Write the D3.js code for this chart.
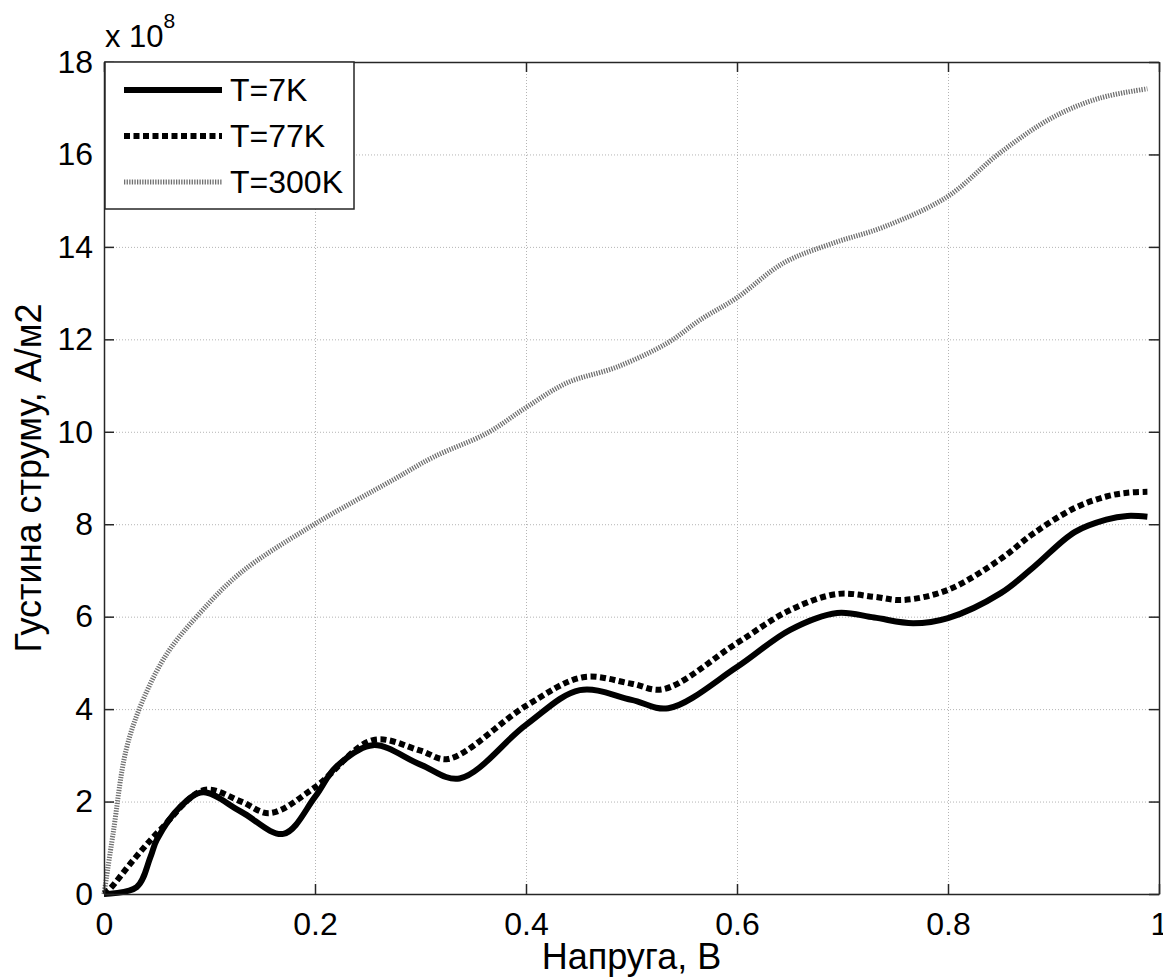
<!DOCTYPE html>
<html>
<head>
<meta charset="utf-8">
<script src="https://cdn.jsdelivr.net/npm/d3@7"></script>
<style>
  body { margin: 0; background: #fff; }
  text { font-family: "Liberation Sans", Arial, sans-serif; fill: #000; }
</style>
</head>
<body>
<div id="graph"></div>
<script>
// voltage (V) and current density (x 1e8 A/m2)
const xT7 = [0, 0.031, 0.044, 0.05, 0.072, 0.094, 0.13, 0.17, 0.2, 0.22, 0.255, 0.3, 0.337, 0.4, 0.451, 0.5, 0.535, 0.6, 0.65, 0.695, 0.73, 0.767, 0.8, 0.85, 0.881, 0.92, 0.95, 0.97, 0.989];
const yT7 = [0, 0.15, 0.8, 1.17, 1.88, 2.2, 1.78, 1.3, 2.1, 2.75, 3.22, 2.8, 2.5, 3.66, 4.41, 4.2, 4.02, 4.91, 5.71, 6.08, 5.98, 5.86, 5.97, 6.51, 7.07, 7.83, 8.1, 8.18, 8.16];

const xT77 = [0, 0.006, 0.028, 0.053, 0.095, 0.13, 0.157, 0.2, 0.255, 0.3, 0.326, 0.4, 0.454, 0.5, 0.53, 0.6, 0.65, 0.695, 0.73, 0.757, 0.8, 0.85, 0.881, 0.92, 0.95, 0.97, 0.989];
const yT77 = [0, 0.12, 0.74, 1.38, 2.25, 2.0, 1.75, 2.31, 3.33, 3.1, 2.92, 4.07, 4.69, 4.55, 4.43, 5.43, 6.14, 6.49, 6.43, 6.36, 6.58, 7.25, 7.8, 8.35, 8.6, 8.68, 8.7];

const xT300 = [0, 0.0087, 0.021, 0.037, 0.06, 0.091, 0.129, 0.198, 0.274, 0.312, 0.363, 0.401, 0.439, 0.486, 0.534, 0.565, 0.6, 0.644, 0.691, 0.739, 0.799, 0.849, 0.9, 0.944, 0.989];
const yT300 = [0, 1.32, 3.12, 4.2, 5.21, 6.08, 6.94, 7.98, 8.96, 9.45, 9.97, 10.54, 11.06, 11.4, 11.92, 12.42, 12.9, 13.65, 14.08, 14.43, 15.08, 16.03, 16.81, 17.22, 17.42];

const xTicks = [0, 0.2, 0.4, 0.6, 0.8, 1];
const yTicks = [0, 2, 4, 6, 8, 10, 12, 14, 16, 18];
const legendLabels = ["T=7K", "T=77K", "T=300K"];

const W = 1163, H = 980;
const mLeft = 104, mRight = 1159, mTop = 62, mBottom = 894;

const svg = d3.select("#graph").append("svg")
  .attr("width", W)
  .attr("height", H);

const x = d3.scaleLinear().domain([0, 1]).range([mLeft, mRight]);
const y = d3.scaleLinear().domain([0, 18]).range([mBottom, mTop]);

// grid
svg.append("g")
  .attr("transform", "translate(0," + mBottom + ")")
  .call(d3.axisBottom(x).tickValues(xTicks).tickSize(-(mBottom - mTop)).tickFormat(""))
  .call(g => g.select(".domain").remove())
  .selectAll("line")
  .attr("stroke", "#b4b4b4")
  .attr("stroke-dasharray", "1,2");

svg.append("g")
  .attr("transform", "translate(" + mLeft + ",0)")
  .call(d3.axisLeft(y).tickValues(yTicks).tickSize(-(mRight - mLeft)).tickFormat(""))
  .call(g => g.select(".domain").remove())
  .selectAll("line")
  .attr("stroke", "#b4b4b4")
  .attr("stroke-dasharray", "1,2");

// curves
const series = [
  { xs: xT7, ys: yT7, stroke: "#000", width: 6, dash: null },
  { xs: xT77, ys: yT77, stroke: "#000", width: 6, dash: "6,3.5" },
  { xs: xT300, ys: yT300, stroke: "#707070", width: 5, dash: "1.3,1.3" }
];

const line = d3.line()
  .x(d => x(d[0]))
  .y(d => y(d[1]))
  .curve(d3.curveCatmullRom.alpha(0.5));

series.slice().reverse().forEach(s => {
  svg.append("path")
    .datum(d3.zip(s.xs, s.ys))
    .attr("d", line)
    .attr("fill", "none")
    .attr("stroke", s.stroke)
    .attr("stroke-width", s.width)
    .attr("stroke-dasharray", s.dash)
    .attr("stroke-linejoin", "round");
});

// axes with inward ticks on all four sides
const axisColor = "#262626";
function styleAxis(g) {
  g.select(".domain").attr("stroke", axisColor).attr("stroke-width", 1.5);
  g.selectAll(".tick line").attr("stroke", axisColor).attr("stroke-width", 1.5);
  g.selectAll("text").style("font-size", "32px").attr("fill", "#000");
}

svg.append("g")
  .attr("transform", "translate(0," + mBottom + ")")
  .call(d3.axisBottom(x).tickValues(xTicks).tickSizeInner(-10).tickSizeOuter(0).tickPadding(18).tickFormat(d3.format("")))
  .call(styleAxis);

svg.append("g")
  .attr("transform", "translate(0," + mTop + ")")
  .call(d3.axisTop(x).tickValues(xTicks).tickSizeInner(-10).tickSizeOuter(0).tickFormat(""))
  .call(styleAxis);

svg.append("g")
  .attr("transform", "translate(" + mLeft + ",0)")
  .call(d3.axisLeft(y).tickValues(yTicks).tickSizeInner(-10).tickSizeOuter(0).tickPadding(11))
  .call(styleAxis);

svg.append("g")
  .attr("transform", "translate(" + mRight + ",0)")
  .call(d3.axisRight(y).tickValues(yTicks).tickSizeInner(-10).tickSizeOuter(0).tickFormat(""))
  .call(styleAxis);

// exponent label
const expo = svg.append("text")
  .attr("x", mLeft + 1)
  .attr("y", 47)
  .style("font-size", "31px");
expo.append("tspan").text("x 10");
expo.append("tspan").attr("dy", -19).style("font-size", "21px").text("8");

// axis titles
svg.append("text")
  .attr("x", (mLeft + mRight) / 2)
  .attr("y", 969)
  .attr("text-anchor", "middle")
  .style("font-size", "36px")
  .text("Напруга, В");

svg.append("text")
  .attr("transform", "translate(41," + ((mTop + mBottom) / 2) + ") rotate(-90)")
  .attr("text-anchor", "middle")
  .style("font-size", "36px")
  .text("Густина струму, А/м2");

// legend
const legend = svg.append("g");
legend.append("rect")
  .attr("x", mLeft + 1)
  .attr("y", mTop)
  .attr("width", 249)
  .attr("height", 147)
  .attr("fill", "#fff")
  .attr("stroke", axisColor)
  .attr("stroke-width", 1.5);

const rowY = d3.scalePoint().domain(legendLabels).range([90, 182]);
legendLabels.forEach((lab, i) => {
  const s = series[i];
  legend.append("line")
    .attr("x1", 124).attr("x2", 222)
    .attr("y1", rowY(lab)).attr("y2", rowY(lab))
    .attr("stroke", s.stroke)
    .attr("stroke-width", s.width)
    .attr("stroke-dasharray", s.dash);
  legend.append("text")
    .attr("x", 230)
    .attr("y", rowY(lab) + 11)
    .style("font-size", "32px")
    .text(lab);
});
</script>
</body>
</html>
